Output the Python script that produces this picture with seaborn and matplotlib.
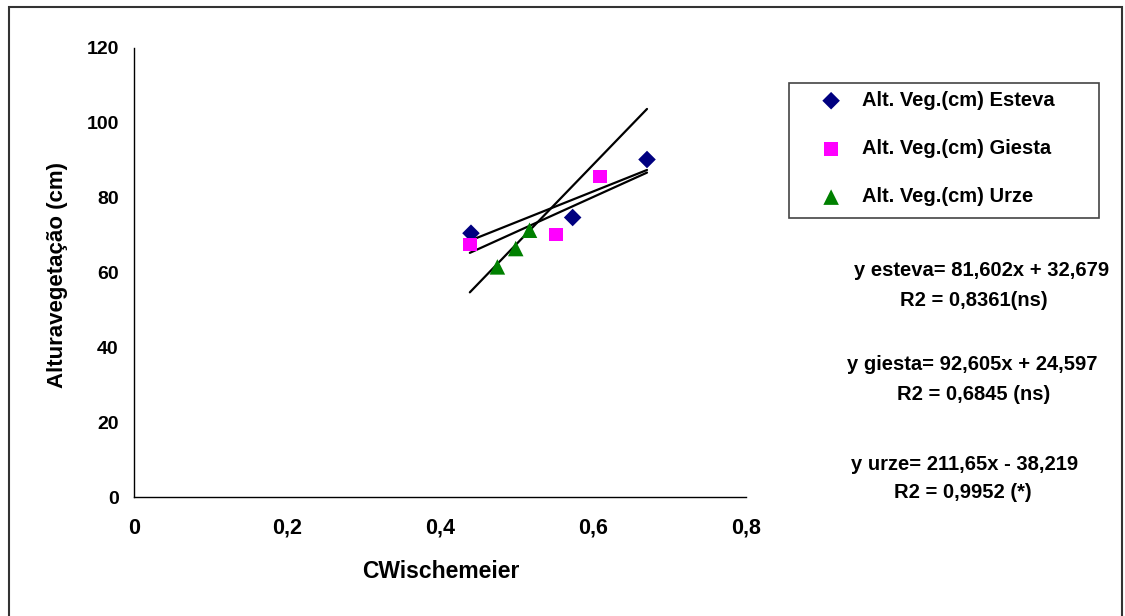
import matplotlib
matplotlib.use("Agg")
import matplotlib.pyplot as plt
import numpy as np
import pandas as pd
import seaborn as sns
from matplotlib.patches import Rectangle

sns.set_style("white")
plt.rcParams["font.family"] = ["Liberation Sans", "DejaVu Sans"]
plt.rcParams["font.weight"] = "bold"
plt.rcParams["text.color"] = "black"
plt.rcParams["xtick.color"] = "black"
plt.rcParams["ytick.color"] = "black"

# ---------------------------------------------------------------------------
# Data
# ---------------------------------------------------------------------------
esteva_x = [0.4405, 0.5734, 0.6706]
esteva_y = [70.5, 74.7, 90.2]
giesta_x = [0.439, 0.5516, 0.609]
giesta_y = [67.5, 70.2, 85.6]
urze_x = [0.475, 0.499, 0.517]
urze_y = [61.5, 66.4, 71.3]

series_names = ["Alt. Veg.(cm) Esteva", "Alt. Veg.(cm) Giesta", "Alt. Veg.(cm) Urze"]
slopes = [81.602, 92.605, 211.65]
intercepts = [32.679, 24.597, -38.219]
equations = [
    ("y esteva= 81,602x + 32,679", "R2 = 0,8361(ns)"),
    ("y giesta= 92,605x + 24,597", "R2 = 0,6845 (ns)"),
    ("y urze= 211,65x - 38,219", "R2 = 0,9952 (*)"),
]
x_ticks = [0, 0.2, 0.4, 0.6, 0.8]
x_tick_labels = ["0", "0,2", "0,4", "0,6", "0,8"]
y_ticks = [0, 20, 40, 60, 80, 100, 120]

colors = {series_names[0]: "#000080", series_names[1]: "#FF00FF", series_names[2]: "#008000"}
markers = {series_names[0]: "D", series_names[1]: "s", series_names[2]: "^"}
sizes = {series_names[0]: 80, series_names[1]: 95, series_names[2]: 125}

df = pd.concat([
    pd.DataFrame({"x": esteva_x, "y": esteva_y, "serie": series_names[0]}),
    pd.DataFrame({"x": giesta_x, "y": giesta_y, "serie": series_names[1]}),
    pd.DataFrame({"x": urze_x, "y": urze_y, "serie": series_names[2]}),
], ignore_index=True)

W, H = 1125, 616
fig = plt.figure(figsize=(W / 100, H / 100), dpi=100)
ax = fig.add_axes([134 / W, 1 - 497 / H, (746 - 134) / W, (497 - 48) / H])

for name in series_names:
    sub = df[df["serie"] == name]
    sns.scatterplot(data=sub, x="x", y="y", color=colors[name], marker=markers[name],
                    s=sizes[name], edgecolor="none", ax=ax, label=name, zorder=3)

# trendlines over the range of the x values
trend_x = np.array([df["x"].min(), df["x"].max()])
for m, b in zip(slopes, intercepts):
    ax.plot(trend_x, m * trend_x + b, color="black", lw=1.6, zorder=2)

ax.set_xlim(0, 0.8)
ax.set_ylim(0, 120)
ax.set_xticks(x_ticks)
ax.set_xticklabels(x_tick_labels)
ax.set_yticks(y_ticks)
ax.tick_params(axis="both", direction="out", length=4, width=1, color="black")
ax.tick_params(axis="y", labelsize=14, pad=7)
ax.tick_params(axis="x", labelsize=15.5, pad=11)
for lab in ax.get_xticklabels() + ax.get_yticklabels():
    lab.set_fontweight("bold")
for side in ["top", "right"]:
    ax.spines[side].set_visible(False)
for side in ["left", "bottom"]:
    ax.spines[side].set_color("black")
    ax.spines[side].set_linewidth(1)

ax.set_xlabel("")
ax.set_ylabel("")
fig.text(441 / W, 1 - 571 / H, "CWischemeier", ha="center", va="center",
         fontsize=16.5, fontweight="bold")
fig.text(57 / W, 1 - 275 / H, "Alturavegetação (cm)", ha="center", va="center",
         rotation=90, fontsize=16, fontweight="bold")

# legend: text/handles without frame, box drawn separately
leg = ax.legend(loc="upper left", bbox_to_anchor=(815 / W, 1 - 91 / H),
                bbox_transform=fig.transFigure, frameon=False,
                prop={"size": 14.5, "weight": "bold"}, labelspacing=1.45,
                borderpad=0, handletextpad=0.75, handlelength=1.6,
                borderaxespad=0)
fig.patches.append(Rectangle((789 / W, 1 - 218 / H), (1099 - 789) / W, (218 - 83) / H,
                             transform=fig.transFigure, fill=False,
                             edgecolor="#444444", lw=1.2))

# equation annotations
eq_pos = [(982, 270, 974, 300), (972, 365, 974, 394), (965, 464, 963, 493)]
for (eq, r2), (x1, y1, x2, y2) in zip(equations, eq_pos):
    fig.text(x1 / W, 1 - y1 / H, eq, ha="center", va="center",
             fontsize=14.5, fontweight="bold")
    fig.text(x2 / W, 1 - y2 / H, r2, ha="center", va="center",
             fontsize=14.5, fontweight="bold")

# outer chart border
fig.patches.append(Rectangle((9 / W, -0.05), (1122 - 9) / W, 1.05 - 7 / H,
                             transform=fig.transFigure, fill=False,
                             edgecolor="#333333", lw=1.5, clip_on=False))

fig.savefig("out.png", dpi=100)
plt.close(fig)
